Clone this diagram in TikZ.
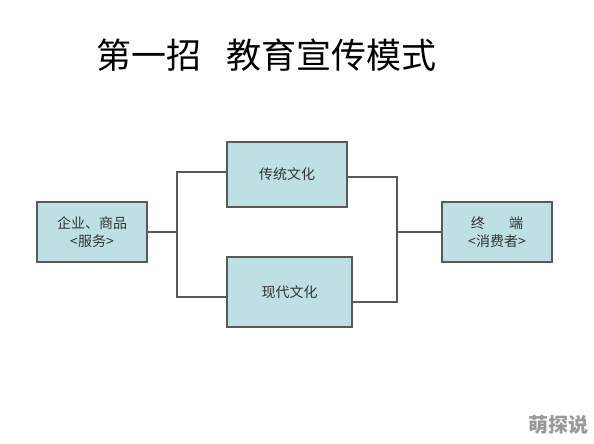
\documentclass[tikz,border=0pt]{standalone}
\usepackage{fontspec}
\newfontfamily\cjk{Noto Sans CJK SC}
\usetikzlibrary{positioning}
\definecolor{boxfill}{RGB}{191,224,227}
\definecolor{boxline}{RGB}{89,89,89}

\begin{document}
\begin{tikzpicture}[
	x=1pt,y=-1pt,
	stagenode/.style={
		rectangle,draw=boxline,line width=1.6pt,fill=boxfill,
		text centered,align=center,inner sep=0pt,
		font=\cjk\fontsize{14}{18}\selectfont,text=black!80},
	link/.style={draw=boxline,line width=1.6pt}
	]
	\useasboundingbox (0,0) rectangle (594,444);
	\node [font=\cjk\fontsize{35}{40}\selectfont] (title) at (266.5,55.5) {第一招\hspace{0.7em}教育宣传模式};
	% stages
	\node [stagenode, minimum width=110, minimum height=60] (firm) at (92,232) {企业、商品\\<服务>};
	\node [stagenode, minimum width=120, minimum height=65] (classic) at (287,174.5) {传统文化};
	\node [stagenode, minimum width=125, minimum height=70] (modern) at (289.5,292) {现代文化};
	\node [stagenode, minimum width=110, minimum height=60] (client) at (497,232) {终\hspace{1.75em}端\\<消费者>};
	% links
	\coordinate (jleft) at (177,232);
	\coordinate (jright) at (397,232);
	\draw [link] (firm.east) -- (jleft);
	\draw [link] ([yshift=2.5pt]classic.west) -| (jleft) |- ([yshift=-5pt]modern.west);
	\draw [link] ([yshift=-2.5pt]classic.east) -| (jright) |- ([yshift=-10pt]modern.east);
	\draw [link] (jright) -- (client.west);
	\node [font=\cjk\bfseries\fontsize{20}{22}\selectfont, text=black!40] (mark) at (558,425) {萌探说};
\end{tikzpicture}
\end{document}
